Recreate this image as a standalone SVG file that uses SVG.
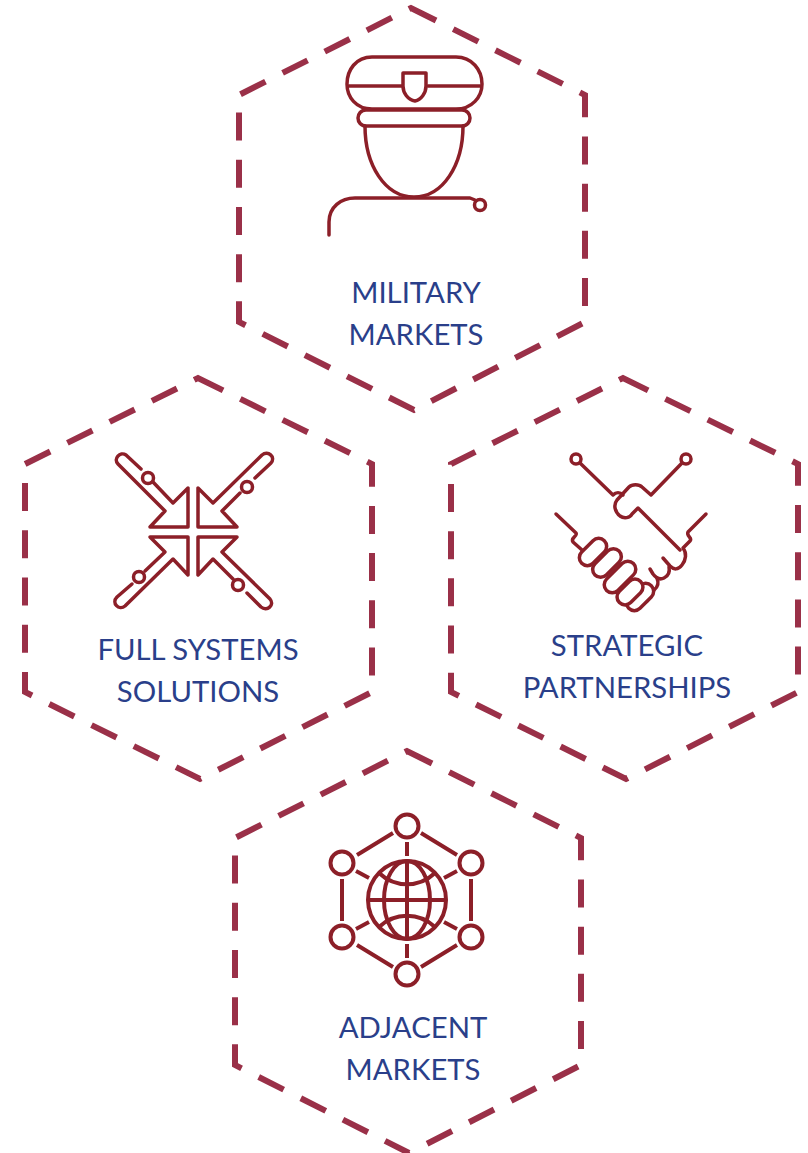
<svg xmlns="http://www.w3.org/2000/svg" width="808" height="1153" viewBox="0 0 808 1153">
<style>
.hex{fill:none;stroke:#9a3048;stroke-width:6;stroke-dasharray:28 19.2}
.ic{fill:none;stroke:#8c1f28;stroke-width:3.5;stroke-linecap:round;stroke-linejoin:round}
.fg{fill:#fff}
.t{font-family:Lato,"Open Sans","Liberation Sans",sans-serif;font-size:29.3px;fill:#2a3f8a;text-anchor:middle}
</style>
<rect width="808" height="1153" fill="#fff"/>
<g id="connectors"/>
<g id="military">
<path class="hex" d="M411 8L585 95V322L414 410L239 322V95Z"/>
<g class="ic">
<path d="M372 57H456C472 57 482 70 482 84C482 97 472 109 456 109H372C356 109 347 97 347 84C347 70 356 57 372 57Z"/>
<path d="M349 86H402M428 86H480"/>
<path d="M403 73H426V86C426 93 421 100 415 101C408 100 403 93 403 86Z"/>
<path d="M366 110H462C467 110 470 114 470 118C470 122 467 126 462 126H366C361 126 358 122 358 118C358 114 361 110 366 110Z"/>
<path d="M365 126C365 165 385 197 414 197C443 197 463 165 463 126"/>
<path d="M329 235V222C329 207 341 198 355 198H470L475 200"/>
<circle cx="480" cy="205" r="5.5"/>
</g>
<text class="t" x="416" y="303">MILITARY</text>
<text class="t" x="416" y="345">MARKETS</text>
</g>
<g id="full-systems">
<path class="hex" d="M198 378L372 464V692L200 779L25 692V464Z"/>
<g class="ic">
<path d="M153 482L173 503L188 488V527H150L165 511L118 464C113 459 120 451 126 455L141 469"/>
<circle cx="148" cy="478" r="5.5"/>
<path d="M255 478L271 463C276 457 268 450 262 455L213 503L198 488V527H237L222 511L240 493"/>
<circle cx="247" cy="487" r="5.5"/>
<path d="M145 571L165 552L150 537H188V575L173 559L125 606C119 611 111 603 117 597L132 584"/>
<circle cx="139" cy="577" r="5.5"/>
<path d="M233 579L213 559L198 575V537H237L222 552L270 599C275 605 267 612 261 607L247 593"/>
<circle cx="238" cy="585" r="5.5"/>
</g>
<text class="t" x="198" y="660">FULL SYSTEMS</text>
<text class="t" x="198" y="702">SOLUTIONS</text>
</g>
<g id="strategic">
<path class="hex" d="M623 378L798 464V692L626 779L451 692V464Z"/>
<g class="ic">
<circle cx="576" cy="459" r="5"/>
<circle cx="686" cy="459" r="5"/>
<path d="M580 463L613 495C616 492 620 492 623 495"/>
<path d="M682 463L651 495L642 487C639 484 632 484 629 487L617 500C613 505 615 512 620 516C624 519 630 518 632 514L638 508L680 550"/>
<path d="M556 514L576 533C578 536 570 538 573 542L582 550"/>
<path d="M706 514L688 532C686 536 693 538 690 541L683 548C687 553 686 560 682 565C678 570 674 570 670 566L663 558"/>
<path d="M669 567C670 572 668 576 664 578C660 580 656 578 653 574L650 569"/>
<path d="M657 578C659 583 658 587 654 590C650 593 646 590 642 586"/>
<path d="M648 593C651 598 647 603 641 604"/>
<rect class="fg" x="-16" y="-8" width="32" height="16" rx="8" transform="translate(640 597) rotate(-45)"/>
<rect class="fg" x="-15" y="-8" width="30" height="16" rx="8" transform="translate(630 592) rotate(-45)"/>
<rect class="fg" x="-19" y="-8" width="38" height="16" rx="8" transform="translate(620 577) rotate(-45)"/>
<rect class="fg" x="-17" y="-8" width="34" height="16" rx="8" transform="translate(607 563) rotate(-45)"/>
<rect class="fg" x="-16" y="-8" width="32" height="16" rx="8" transform="translate(593 552) rotate(-45)"/>
</g>
<text class="t" x="627" y="656">STRATEGIC</text>
<text class="t" x="627" y="698">PARTNERSHIPS</text>
</g>
<g id="adjacent">
<path class="hex" d="M407 751L581 838V1065L409 1153L235 1065V838Z"/>
<g class="ic" style="stroke-width:4;stroke-linecap:butt">
<circle cx="407" cy="826" r="11.5"/><circle cx="342" cy="863" r="11.5"/><circle cx="471" cy="863" r="11.5"/><circle cx="342" cy="937" r="11.5"/><circle cx="471" cy="937" r="11.5"/><circle cx="407" cy="974" r="11.5"/>
<path d="M393 833L357 855M421 833L457 855M342 879V921M471 879V921M357 945L393 967M457 945L421 967M407 842V856M407 944V958M356 871L369 878M457 871L444 878M356 929L369 922M457 929L444 922"/>
<circle cx="407" cy="900" r="39"/>
<ellipse cx="407" cy="900" rx="23" ry="39"/>
<path d="M368 900H446M407 861V939M379 873C395 888 419 888 435 873M379 927C395 912 419 912 435 927"/>
</g>
<text class="t" x="413" y="1038">ADJACENT</text>
<text class="t" x="413" y="1080">MARKETS</text>
</g>
</svg>
